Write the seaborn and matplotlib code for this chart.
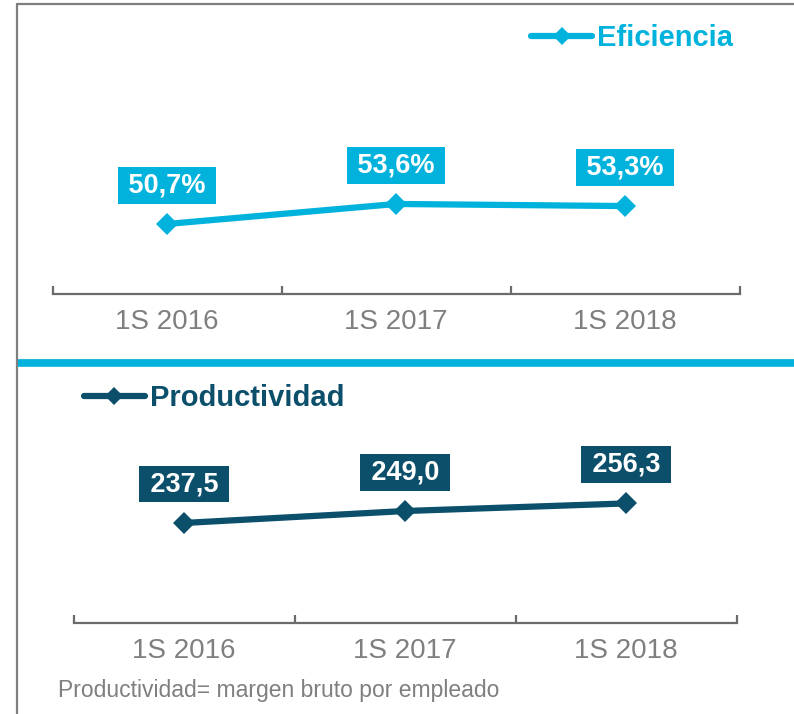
import matplotlib
matplotlib.use("Agg")
import matplotlib.pyplot as plt
from matplotlib.lines import Line2D
import seaborn as sns
import pandas as pd

# ---- data ----
periodos = ["1S 2016", "1S 2017", "1S 2018"]
eficiencia = [50.7, 53.6, 53.3]
eficiencia_labels = ["50,7%", "53,6%", "53,3%"]
productividad = [237.5, 249.0, 256.3]
productividad_labels = ["237,5", "249,0", "256,3"]
nota = "Productividad= margen bruto por empleado"

CYAN = "#00B2DC"
DARK = "#0B4F6B"
GRAY = "#7F7F7F"
AXGRAY = "#6B6B6B"

sns.set_theme(style="white")
plt.rcParams["font.family"] = ["Liberation Sans", "DejaVu Sans"]

W, H = 794, 714
fig = plt.figure(figsize=(W / 100, H / 100), dpi=100)
fig.patch.set_facecolor("white")


def px_axes(left, top, right, bottom):
    return fig.add_axes([left / W, 1 - bottom / H, (right - left) / W, (bottom - top) / H])


def style_axis(ax, ylim):
    ax.set_xlim(-0.5, 2.5)
    ax.set_ylim(*ylim)
    for s in ["left", "right", "top"]:
        ax.spines[s].set_visible(False)
    ax.spines["bottom"].set_color(AXGRAY)
    ax.spines["bottom"].set_linewidth(1.6)
    ax.set_yticks([])
    ax.set_xticks([0, 1, 2])
    ax.set_xticklabels(periodos, fontsize=20, color=GRAY)
    ax.set_xticks([-0.5, 0.5, 1.5, 2.5], minor=True)
    ax.tick_params(axis="x", which="major", length=0, pad=11)
    ax.tick_params(axis="x", which="minor", length=6, width=1.6, color=AXGRAY,
                   direction="in", bottom=True)
    ax.set_xlabel("")
    ax.set_ylabel("")
    ax.patch.set_alpha(0)


def draw_panel(ax, values, labels, color, name, ylim):
    df = pd.DataFrame({"periodo": periodos, "valor": values})
    sns.lineplot(data=df, x="periodo", y="valor", ax=ax, color=color, sort=False,
                 marker="D", markersize=11.5, markeredgewidth=0, linewidth=4.5,
                 label=name)
    style_axis(ax, ylim)
    for i, (v, lab) in enumerate(zip(values, labels)):
        ax.annotate("\u2009" + lab + "\u2009", xy=(i, v), xytext=(0, 28),
                    textcoords="offset points",
                    ha="center", va="center", fontsize=19.5, fontweight="bold",
                    color="white",
                    bbox=dict(boxstyle="square,pad=0.2", fc=color, ec="none"))


# top panel
ax1 = px_axes(52.5, 30, 739.5, 294)
draw_panel(ax1, eficiencia, eficiencia_labels, CYAN, "Eficiencia", (40.56, 78.8))
leg1 = ax1.legend(loc="center right", bbox_to_anchor=(748 / W, 1 - 38 / H),
                  bbox_transform=fig.transFigure, frameon=False, borderpad=0,
                  handlelength=2.1, handletextpad=0.17,
                  prop={"weight": "bold", "size": 21}, labelcolor=CYAN)
for h in leg1.legend_handles:
    h.set_markersize(9)

# bottom panel
ax2 = px_axes(73.5, 380, 736.5, 623)
draw_panel(ax2, productividad, productividad_labels, DARK, "Productividad", (141.3, 375.0))
leg2 = ax2.legend(loc="center left", bbox_to_anchor=(69 / W, 1 - 398 / H),
                  bbox_transform=fig.transFigure, frameon=False, borderpad=0,
                  handlelength=2.1, handletextpad=0.17,
                  prop={"weight": "bold", "size": 21}, labelcolor=DARK)
for h in leg2.legend_handles:
    h.set_markersize(9)

# frame lines
fig.add_artist(Line2D([17 / W, 1], [1 - 4 / H, 1 - 4 / H], transform=fig.transFigure,
                      color=GRAY, linewidth=1.6))
fig.add_artist(Line2D([17 / W, 17 / W], [1 - 4 / H, 0], transform=fig.transFigure,
                      color=GRAY, linewidth=1.6))
fig.add_artist(Line2D([18 / W, 1], [1 - 358.5 / H, 1 - 358.5 / H], transform=fig.transFigure,
                      color="#CFCFCF", linewidth=0.8, solid_capstyle="butt"))
fig.add_artist(Line2D([18 / W, 1], [1 - 363 / H, 1 - 363 / H], transform=fig.transFigure,
                      color=CYAN, linewidth=5.5, solid_capstyle="butt"))

fig.text(58 / W, 1 - 691 / H, nota, fontsize=16.5, color=GRAY, ha="left", va="center")

fig.savefig("out.png", dpi=100, facecolor="white")
